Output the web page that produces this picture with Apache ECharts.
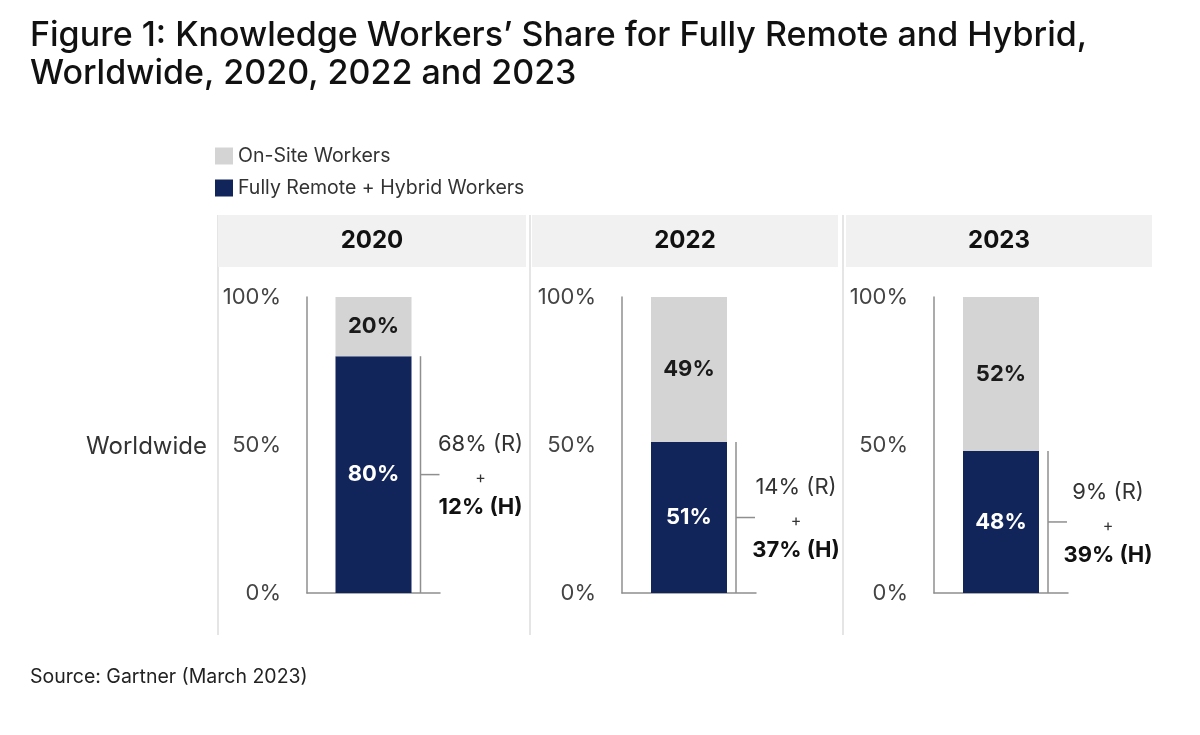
<!DOCTYPE html>
<html>
<head>
<meta charset="utf-8">
<script src="https://cdn.jsdelivr.net/npm/echarts@6/dist/echarts.min.js"></script>
<style>
html,body{margin:0;padding:0;background:#fff;}
#chart{width:1200px;height:735px;}
</style>
</head>
<body>
<div id="chart"></div>
<script>
// ---- data ----
const years = ['2020', '2022', '2023'];
const region = ['Worldwide'];
const onSite = [20, 49, 52];
const remoteHybrid = [80, 51, 48];
const fullyRemote = [68, 14, 9];
const hybrid = [12, 37, 39];
const yTicks = [0, 50, 100];

const seriesNames = ['On-Site Workers', 'Fully Remote + Hybrid Workers'];
const FONT = 'Inter, "Noto Sans", sans-serif';
const NAVY = '#12255a';
const LIGHT = '#d4d4d4';

// ---- layout (pixels) ----
const gridLeft = [307, 622, 934];
const gridRight = [440, 756, 1068];
const plotTop = 297, plotBottom = 593;
const headerX = [[218, 526], [532, 838], [846, 1152]];
const sepX = [218, 530, 843];

const grids = [], xAxes = [], yAxes = [], series = [];
years.forEach((yr, i) => {
  grids.push({left: gridLeft[i], top: plotTop, width: gridRight[i] - gridLeft[i], height: plotBottom - plotTop});
  xAxes.push({
    type: 'category', gridIndex: i, data: region,
    axisLine: {show: true, lineStyle: {color: '#8f8f8f', width: 1.5}},
    axisTick: {show: false}, axisLabel: {show: false}
  });
  yAxes.push({
    type: 'value', gridIndex: i, min: yTicks[0], max: yTicks[yTicks.length - 1], interval: 50,
    axisLine: {show: true, lineStyle: {color: '#8f8f8f', width: 1.5}},
    axisTick: {show: false}, splitLine: {show: false},
    axisLabel: {formatter: '{value}%', fontSize: 22, color: '#444', margin: 26, fontFamily: FONT}
  });
  series.push({
    name: seriesNames[1], type: 'bar', xAxisIndex: i, yAxisIndex: i, stack: 's' + i,
    barWidth: 76, data: [remoteHybrid[i]],
    itemStyle: {color: NAVY},
    label: {show: true, position: 'inside', formatter: '{c}%', color: '#fff', fontSize: 22, fontWeight: 'bold', fontFamily: FONT}
  });
  series.push({
    name: seriesNames[0], type: 'bar', xAxisIndex: i, yAxisIndex: i, stack: 's' + i,
    barWidth: 76, data: [onSite[i]],
    itemStyle: {color: LIGHT},
    label: {show: true, position: 'inside', formatter: '{c}%', color: '#1a1a1a', fontSize: 22, fontWeight: 'bold', fontFamily: FONT}
  });
  series.push({
    type: 'custom', xAxisIndex: i, yAxisIndex: i, silent: true,
    data: [[0, remoteHybrid[i], fullyRemote[i], hybrid[i]]],
    renderItem: function (params, api) {
      const topPt = api.coord([api.value(0), api.value(1)]);
      const botPt = api.coord([api.value(0), 0]);
      const bx = topPt[0] + 47;
      const midY = (topPt[1] + botPt[1]) / 2;
      const tx = bx + 60;
      const ls = {stroke: '#8f8f8f', lineWidth: 1.5};
      return {
        type: 'group',
        children: [
          {type: 'line', shape: {x1: bx, y1: topPt[1], x2: bx, y2: botPt[1]}, style: ls},
          {type: 'line', shape: {x1: bx, y1: midY, x2: bx + 19, y2: midY}, style: ls},
          {type: 'text', style: {x: tx, y: midY - 30, text: api.value(2) + '% (R)', fill: '#333', font: '22px ' + FONT, textAlign: 'center', textVerticalAlign: 'middle'}},
          {type: 'text', style: {x: tx, y: midY + 4, text: '+', fill: '#333', font: '16px ' + FONT, textAlign: 'center', textVerticalAlign: 'middle'}},
          {type: 'text', style: {x: tx, y: midY + 33, text: api.value(3) + '% (H)', fill: '#111', font: 'bold 22px ' + FONT, textAlign: 'center', textVerticalAlign: 'middle'}}
        ]
      };
    }
  });
});

const graphics = [];
sepX.forEach(x => {
  graphics.push({type: 'line', shape: {x1: x, y1: 215, x2: x, y2: 635}, style: {stroke: '#dcdcdc', lineWidth: 1.5}, z: 0});
});
years.forEach((yr, i) => {
  const [x0, x1] = headerX[i];
  graphics.push({type: 'rect', shape: {x: x0, y: 215, width: x1 - x0, height: 52}, style: {fill: '#f1f1f1'}, z: 1});
  graphics.push({type: 'text', x: (x0 + x1) / 2, y: 241, style: {text: yr, font: 'bold 24px ' + FONT, fill: '#111', textAlign: 'center', textVerticalAlign: 'middle'}, z: 2});
});
graphics.push({type: 'text', x: 207, y: 447, style: {text: region[0], font: '24px ' + FONT, fill: '#333', textAlign: 'right', textVerticalAlign: 'middle'}});
graphics.push({type: 'text', x: 30, y: 677, style: {text: 'Source: Gartner (March 2023)', font: '19.5px ' + FONT, fill: '#222', textAlign: 'left', textVerticalAlign: 'middle'}});

const chart = echarts.init(document.getElementById('chart'));
chart.setOption({
  backgroundColor: '#fff',
  animation: false,
  title: {
    text: 'Figure 1: Knowledge Workers\u2019 Share for Fully Remote and Hybrid,\nWorldwide, 2020, 2022 and 2023',
    left: 25, top: 12,
    textStyle: {fontSize: 34, fontWeight: 500, color: '#111', lineHeight: 38, fontFamily: FONT}
  },
  legend: {
    data: seriesNames, orient: 'vertical', left: 210, top: 141,
    icon: 'rect', itemWidth: 18, itemHeight: 17, itemGap: 12,
    textStyle: {fontSize: 19.5, color: '#333', fontFamily: FONT},
    selectedMode: false
  },
  grid: grids, xAxis: xAxes, yAxis: yAxes, series: series,
  graphic: graphics
});
</script>
</body>
</html>
